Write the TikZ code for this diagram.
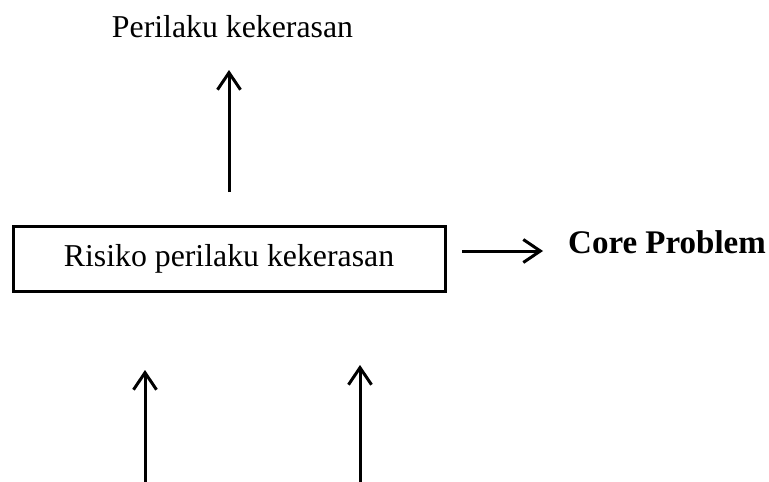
\documentclass[tikz,border=0pt]{standalone}
\usepackage{fontspec}
\setmainfont{Liberation Serif}
\usetikzlibrary{arrows.meta}
\begin{document}
\begin{tikzpicture}[x=1pt,y=-1pt,
  lbl/.style={font=\fontsize{31.8}{38}\selectfont, inner sep=0pt},
  arr/.style={line width=3pt, -{Straight Barb[length=17pt,width=23pt,line width=3pt]}},
  boxed/.style={draw, line width=3pt, minimum width=432pt, minimum height=65pt, inner sep=0pt}]
\useasboundingbox (0,0) rectangle (769,482);
\node[lbl, anchor=base] (top) at (232.5,37) {Perilaku kekerasan};
\node[lbl, boxed] (box) at (229,258.5) {Risiko perilaku kekerasan};
\node[lbl, anchor=base west, font=\fontsize{33}{40}\selectfont\bfseries] (core) at (568,253) {Core Problem};
\coordinate (t1) at (229,192);
\coordinate (t2) at (229,70);
\coordinate (r1) at (462,251);
\coordinate (r2) at (543,251);
\coordinate (a1) at (145,482);
\coordinate (a2) at (145,370);
\coordinate (b1) at (360,482);
\coordinate (b2) at (360,365);
\draw[arr] (t1) -- (t2);
\draw[arr] (r1) -- (r2);
\draw[arr] (a1) -- (a2);
\draw[arr] (b1) -- (b2);
\end{tikzpicture}
\end{document}
